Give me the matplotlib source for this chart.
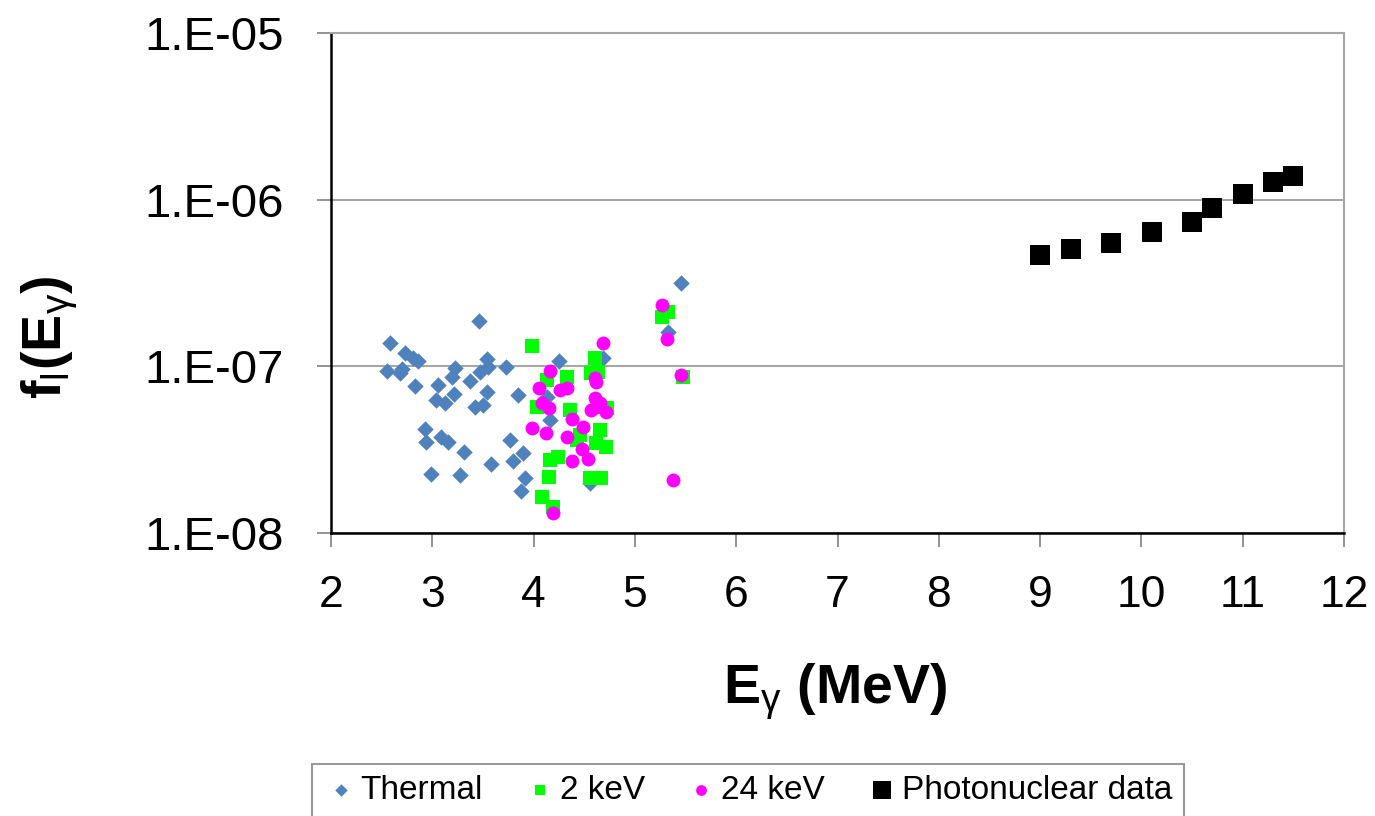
import matplotlib.pyplot as plt
from matplotlib.ticker import FixedLocator, FixedFormatter, NullLocator

plt.rcParams['font.family'] = ['Liberation Sans', 'DejaVu Sans']
plt.rcParams['mathtext.fontset'] = 'custom'
plt.rcParams['mathtext.rm'] = 'Liberation Sans'
plt.rcParams['mathtext.it'] = 'Liberation Sans'
plt.rcParams['mathtext.bf'] = 'Liberation Sans:bold'

# Thermal neutron capture
thermal_e = [3.46, 2.58, 2.73, 2.81, 2.86, 2.55, 2.70, 2.68, 3.54, 3.55, 3.47,
             3.22, 3.19, 3.73, 2.83, 3.06, 3.37, 3.21, 3.04, 3.13, 3.54, 3.50,
             3.42, 3.85, 2.93, 2.94, 3.09, 3.16, 3.31, 3.77, 3.90, 3.80, 3.58,
             2.99, 3.27, 3.92, 3.88, 5.46, 5.33, 4.25, 4.69, 4.13, 4.16, 4.56]
thermal_f = [1.88e-7, 1.38e-7, 1.20e-7, 1.12e-7, 1.08e-7, 9.37e-8, 9.63e-8,
             9.08e-8, 1.10e-7, 9.95e-8, 9.28e-8, 9.72e-8, 8.66e-8, 9.86e-8,
             7.62e-8, 7.73e-8, 8.20e-8, 6.82e-8, 6.28e-8, 6.00e-8, 7.04e-8,
             5.86e-8, 5.68e-8, 6.73e-8, 4.19e-8, 3.53e-8, 3.78e-8, 3.53e-8,
             3.07e-8, 3.61e-8, 3.03e-8, 2.71e-8, 2.59e-8, 2.26e-8, 2.23e-8,
             2.13e-8, 1.79e-8, 3.15e-7, 1.61e-7, 1.08e-7, 1.12e-7, 6.57e-8,
             4.76e-8, 1.99e-8]

# 2 keV neutron capture
kev2_e = [3.98, 5.27, 5.33, 4.61, 4.57, 4.64, 4.33, 4.13, 4.03, 4.36, 4.66,
          4.71, 4.62, 4.46, 4.16, 4.24, 4.15, 4.56, 4.67, 4.08, 4.19, 5.47,
          4.72, 4.43]
kev2_f = [1.32e-7, 1.97e-7, 2.11e-7, 1.13e-7, 9.15e-8, 9.28e-8, 8.66e-8,
          8.28e-8, 5.72e-8, 5.47e-8, 4.15e-8, 3.29e-8, 3.45e-8, 3.87e-8,
          2.74e-8, 2.87e-8, 2.18e-8, 2.13e-8, 2.13e-8, 1.64e-8, 1.44e-8,
          8.66e-8, 5.62e-8, 3.61e-8]

# 24 keV neutron capture
kev24_e = [5.27, 5.32, 4.69, 4.16, 4.61, 4.62, 4.05, 4.26, 4.33, 4.08, 4.15,
           4.61, 4.66, 4.57, 4.71, 4.62, 4.38, 4.49, 3.98, 4.12, 4.33, 4.48,
           4.38, 4.54, 5.38, 4.19, 5.46]
kev24_f = [2.33e-7, 1.45e-7, 1.38e-7, 9.41e-8, 8.47e-8, 8.08e-8, 7.38e-8,
           7.21e-8, 7.38e-8, 6.05e-8, 5.60e-8, 6.43e-8, 6.00e-8, 5.47e-8,
           5.34e-8, 5.72e-8, 4.81e-8, 4.31e-8, 4.25e-8, 4.00e-8, 3.75e-8,
           3.18e-8, 2.71e-8, 2.77e-8, 2.08e-8, 1.31e-8, 8.87e-8]

# Photonuclear data
photo_e = [9.0, 9.3, 9.7, 10.1, 10.5, 10.7, 11.0, 11.3, 11.5]
photo_f = [4.66e-7, 5.06e-7, 5.49e-7, 6.39e-7, 7.34e-7, 8.9e-7, 1.08e-6,
           1.28e-6, 1.39e-6]

y_ticks = [1e-8, 1e-7, 1e-6, 1e-5]
y_tick_labels = ['1.E-08', '1.E-07', '1.E-06', '1.E-05']
x_ticks = [2, 3, 4, 5, 6, 7, 8, 9, 10, 11, 12]

fig = plt.figure(figsize=(13.75, 8.16), dpi=100)
ax = fig.add_axes([0.2407, 0.3468, 0.7368, 0.6127])

ax.scatter(thermal_e, thermal_f, marker='D', s=70, color='#4F81BD',
           linewidths=0, label='Thermal', zorder=3)
ax.scatter(kev2_e, kev2_f, marker='s', s=95, color='#00FF00',
           linewidths=0, label='2 keV', zorder=3)
ax.scatter(kev24_e, kev24_f, marker='o', s=100, color='#FF00FF',
           linewidths=0, label='24 keV', zorder=3)
ax.scatter(photo_e, photo_f, marker='s', s=210, color='black',
           linewidths=0, label='Photonuclear data', zorder=3)

ax.set_yscale('log')
ax.set_xlim(2, 12)
ax.set_ylim(1e-8, 1e-5)
ax.yaxis.set_major_locator(FixedLocator(y_ticks))
ax.yaxis.set_major_formatter(FixedFormatter(y_tick_labels))
ax.yaxis.set_minor_locator(NullLocator())
ax.set_xticks(x_ticks)

ax.grid(axis='y', color='#A6A6A6', linewidth=1.5)
ax.set_axisbelow(True)
for side in ['top', 'right']:
    ax.spines[side].set_color('#A6A6A6')
    ax.spines[side].set_linewidth(1.5)
for side in ['left', 'bottom']:
    ax.spines[side].set_color('black')
    ax.spines[side].set_linewidth(1.8)

ax.tick_params(axis='both', direction='out', length=10, width=1.2,
               color='#808080', labelcolor='black')
ax.tick_params(axis='x', pad=20, labelsize=32)
ax.tick_params(axis='y', pad=24, labelsize=34)

ax.set_xlabel(r'E$_\gamma$ (MeV)', fontsize=40, fontweight='bold')
ax.xaxis.label.set_va('center')
ax.xaxis.set_label_coords(0.4975, -0.318)
ax.set_ylabel(r'f$_\mathrm{l}$(E$_\gamma$)', fontsize=40, fontweight='bold')
ax.yaxis.label.set_va('center')
ax.yaxis.label.set_ha('center')
ax.yaxis.set_label_coords(-0.277, 0.392)

leg = fig.legend(loc='center', bbox_to_anchor=(0.544, 0.031), ncol=4,
                 fontsize=24, frameon=True, fancybox=False, edgecolor='#808080',
                 handletextpad=0.1, columnspacing=1.2, borderpad=0.35,
                 handlelength=1.0)
leg.get_frame().set_linewidth(1.5)
for h, sz in zip(leg.legend_handles, [40, 60, 60, 180]):
    h.set_sizes([sz])

fig.savefig('out.png', dpi=100)
